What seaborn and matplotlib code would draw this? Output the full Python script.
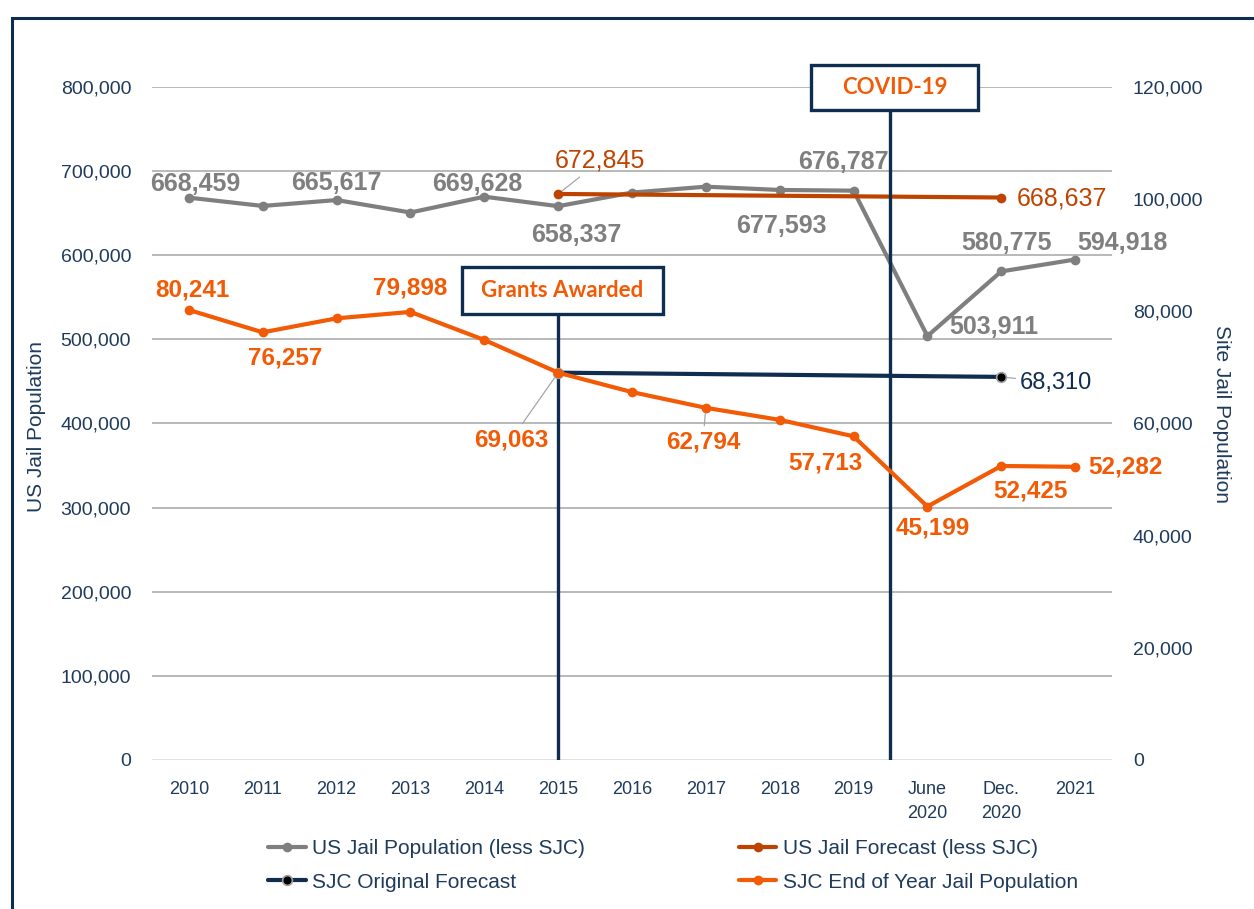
import matplotlib.pyplot as plt
import numpy as np
import seaborn as sns
from matplotlib.patches import Rectangle
from matplotlib.ticker import FuncFormatter

# chart data
periods = ["2010", "2011", "2012", "2013", "2014", "2015", "2016", "2017",
           "2018", "2019", "June 2020", "Dec. 2020", "2021"]
us_jail = [668459, 658600, 665617, 650800, 669628, 658337, 674500, 681500,
           677593, 676787, 503911, 580775, 594918]
us_forecast_periods = ["2015", "Dec. 2020"]
us_forecast = [672845, 668637]
sjc_forecast_periods = ["2015", "Dec. 2020"]
sjc_forecast = [69063, 68310]
sjc_jail = [80241, 76257, 78750, 79898, 74900, 69063, 65600, 62794, 60650,
            57713, 45199, 52425, 52282]
us_ticks = list(range(0, 800001, 100000))
site_ticks = list(range(0, 120001, 20000))
event_names = ["Grants Awarded", "COVID-19"]
event_pos = [5.0, 9.5]

NAVY = "#0F2D4F"
TICK = "#1F3B5C"
GRAY = "#7F7F7F"
BROWN = "#BF4300"
ORANGE = "#F25A05"

sns.set_theme(style="white")
plt.rcParams["font.family"] = ["Liberation Sans", "DejaVu Sans"]

W, H = 1254, 909
fig = plt.figure(figsize=(W / 100, H / 100), dpi=100)
ax = fig.add_axes([152 / W, 1 - 760 / H, 960 / W, 673 / H])
ax2 = ax.twinx()

x_all = np.arange(len(periods))
x_us_fc = [periods.index(p) for p in us_forecast_periods]
x_sjc_fc = [periods.index(p) for p in sjc_forecast_periods]

line_kw = dict(linewidth=3.0, marker="o", markersize=7, markeredgewidth=0)
sns.lineplot(x=x_all, y=us_jail, ax=ax, color=GRAY,
             label="US Jail Population (less SJC)", zorder=3, **line_kw)
sns.lineplot(x=x_us_fc, y=us_forecast, ax=ax, color=BROWN,
             label="US Jail Forecast (less SJC)", zorder=3, **line_kw)
sns.lineplot(x=x_sjc_fc, y=sjc_forecast, ax=ax2, color=NAVY,
             label="SJC Original Forecast", zorder=3, linewidth=3.0,
             marker="o", markersize=7, markerfacecolor="black",
             markeredgecolor="#A0A0A0", markeredgewidth=1.2)
sns.lineplot(x=x_all, y=sjc_jail, ax=ax2, color=ORANGE,
             label="SJC End of Year Jail Population", zorder=4, **line_kw)

for a in (ax, ax2):
    if a.get_legend() is not None:
        a.get_legend().remove()
    for s in a.spines.values():
        s.set_visible(False)

ax.set_xlim(-0.5, len(periods) - 0.5)
ax.set_ylim(0, 800000)
ax2.set_ylim(0, 120000)
ax.set_xticks(x_all)
ax.set_xticklabels([p.replace(" ", "\n") for p in periods], fontsize=13,
                   color=TICK, linespacing=1.55)
ax.set_yticks(us_ticks)
ax2.set_yticks(site_ticks)
fmt = FuncFormatter(lambda v, _: f"{v:,.0f}")
ax.yaxis.set_major_formatter(fmt)
ax2.yaxis.set_major_formatter(fmt)
ax.tick_params(axis="y", length=0, pad=15, labelsize=14, labelcolor=TICK)
ax.tick_params(axis="x", length=0, pad=15)
ax2.tick_params(axis="y", length=0, pad=15, labelsize=14, labelcolor=TICK)
ax.yaxis.grid(True, color="#A6A6A6", linewidth=1.1)
ax.xaxis.grid(False)
ax2.grid(False)
ax.get_ygridlines()[0].set_color("#D9D9D9")

ax.set_ylabel("US Jail Population", fontsize=15, color=TICK, va="center")
ax.yaxis.set_label_coords(-0.12, 0.496)
ax2.set_ylabel("Site Jail Population", fontsize=15, color=TICK,
               rotation=270, va="center")
ax2.yaxis.set_label_coords(1.114, 0.514)

# event markers: box + vertical line
boxes = [dict(cx=5.06, w=2.72, y0=530000, h=56000),
         dict(cx=9.56, w=2.26, y0=773000, h=53000)]
for name, xpos, b in zip(event_names, event_pos, boxes):
    ax.vlines(xpos, 0, b["y0"], color=NAVY, linewidth=2.4, zorder=5)
    ax.add_patch(Rectangle((b["cx"] - b["w"] / 2, b["y0"]), b["w"], b["h"],
                           facecolor="white", edgecolor=NAVY, linewidth=2.4,
                           zorder=6, clip_on=False))
    ax.text(b["cx"], b["y0"] + b["h"] / 2, name, ha="center", va="center",
            color=ORANGE, fontsize=16, fontweight="bold", family=["Lato"],
            zorder=7, clip_on=False)


def label(axis, xs, ys, specs, color, size, weight):
    for i, (dx, dy, leader) in specs.items():
        arrow = None
        if leader:
            arrow = dict(arrowstyle="-", color="#A6A6A6", lw=0.9,
                         shrinkA=1, shrinkB=4)
        axis.annotate(f"{ys[i]:,}", (xs[i], ys[i]), xytext=(dx, dy),
                      textcoords="offset pixels", ha="center", va="center",
                      color=color, fontsize=size, fontweight=weight,
                      arrowprops=arrow, zorder=8)


label(ax, x_all, us_jail,
      {0: (6, 14, False), 2: (0, 17, False), 4: (-7, 13, False),
       5: (18, -29, False), 8: (2, -36, False), 9: (-10, 29, False),
       10: (66, 9, False), 11: (5, 28, False), 12: (47, 17, False)},
      GRAY, 18, "bold")
label(ax, x_us_fc, us_forecast,
      {0: (42, 33, True), 1: (61, -1, False)}, BROWN, 18, "normal")
label(ax2, x_sjc_fc, sjc_forecast, {1: (55, -6, True)}, NAVY, 17, "normal")
label(ax2, x_all, sjc_jail,
      {0: (3, 20, False), 1: (22, -26, False), 3: (0, 24, False),
       5: (-47, -67, True), 7: (-3, -34, True), 9: (-28, -27, False),
       10: (5, -21, False), 11: (29, -25, False), 12: (50, 0, False)},
      ORANGE, 17.5, "bold")

h1, l1 = ax.get_legend_handles_labels()
h2, l2 = ax2.get_legend_handles_labels()
handles = [h1[0], h2[0], h1[1], h2[1]]
labels = [l1[0], l2[0], l1[1], l2[1]]
fig.legend(handles, labels, loc="upper left",
           bbox_to_anchor=(268 / W, 1 - 839 / H), ncol=2, frameon=False,
           fontsize=15, labelcolor=TICK, handlelength=1.8, handletextpad=0.3,
           columnspacing=7.4, labelspacing=0.7, borderpad=0, borderaxespad=0)

# outer frame of the figure panel
fig.add_artist(Rectangle((12 / W, -0.05), 1.0, 1 - 18 / H + 0.05,
                         transform=fig.transFigure, fill=False,
                         edgecolor=NAVY, linewidth=2.2))

fig.savefig("out.png", dpi=100)
